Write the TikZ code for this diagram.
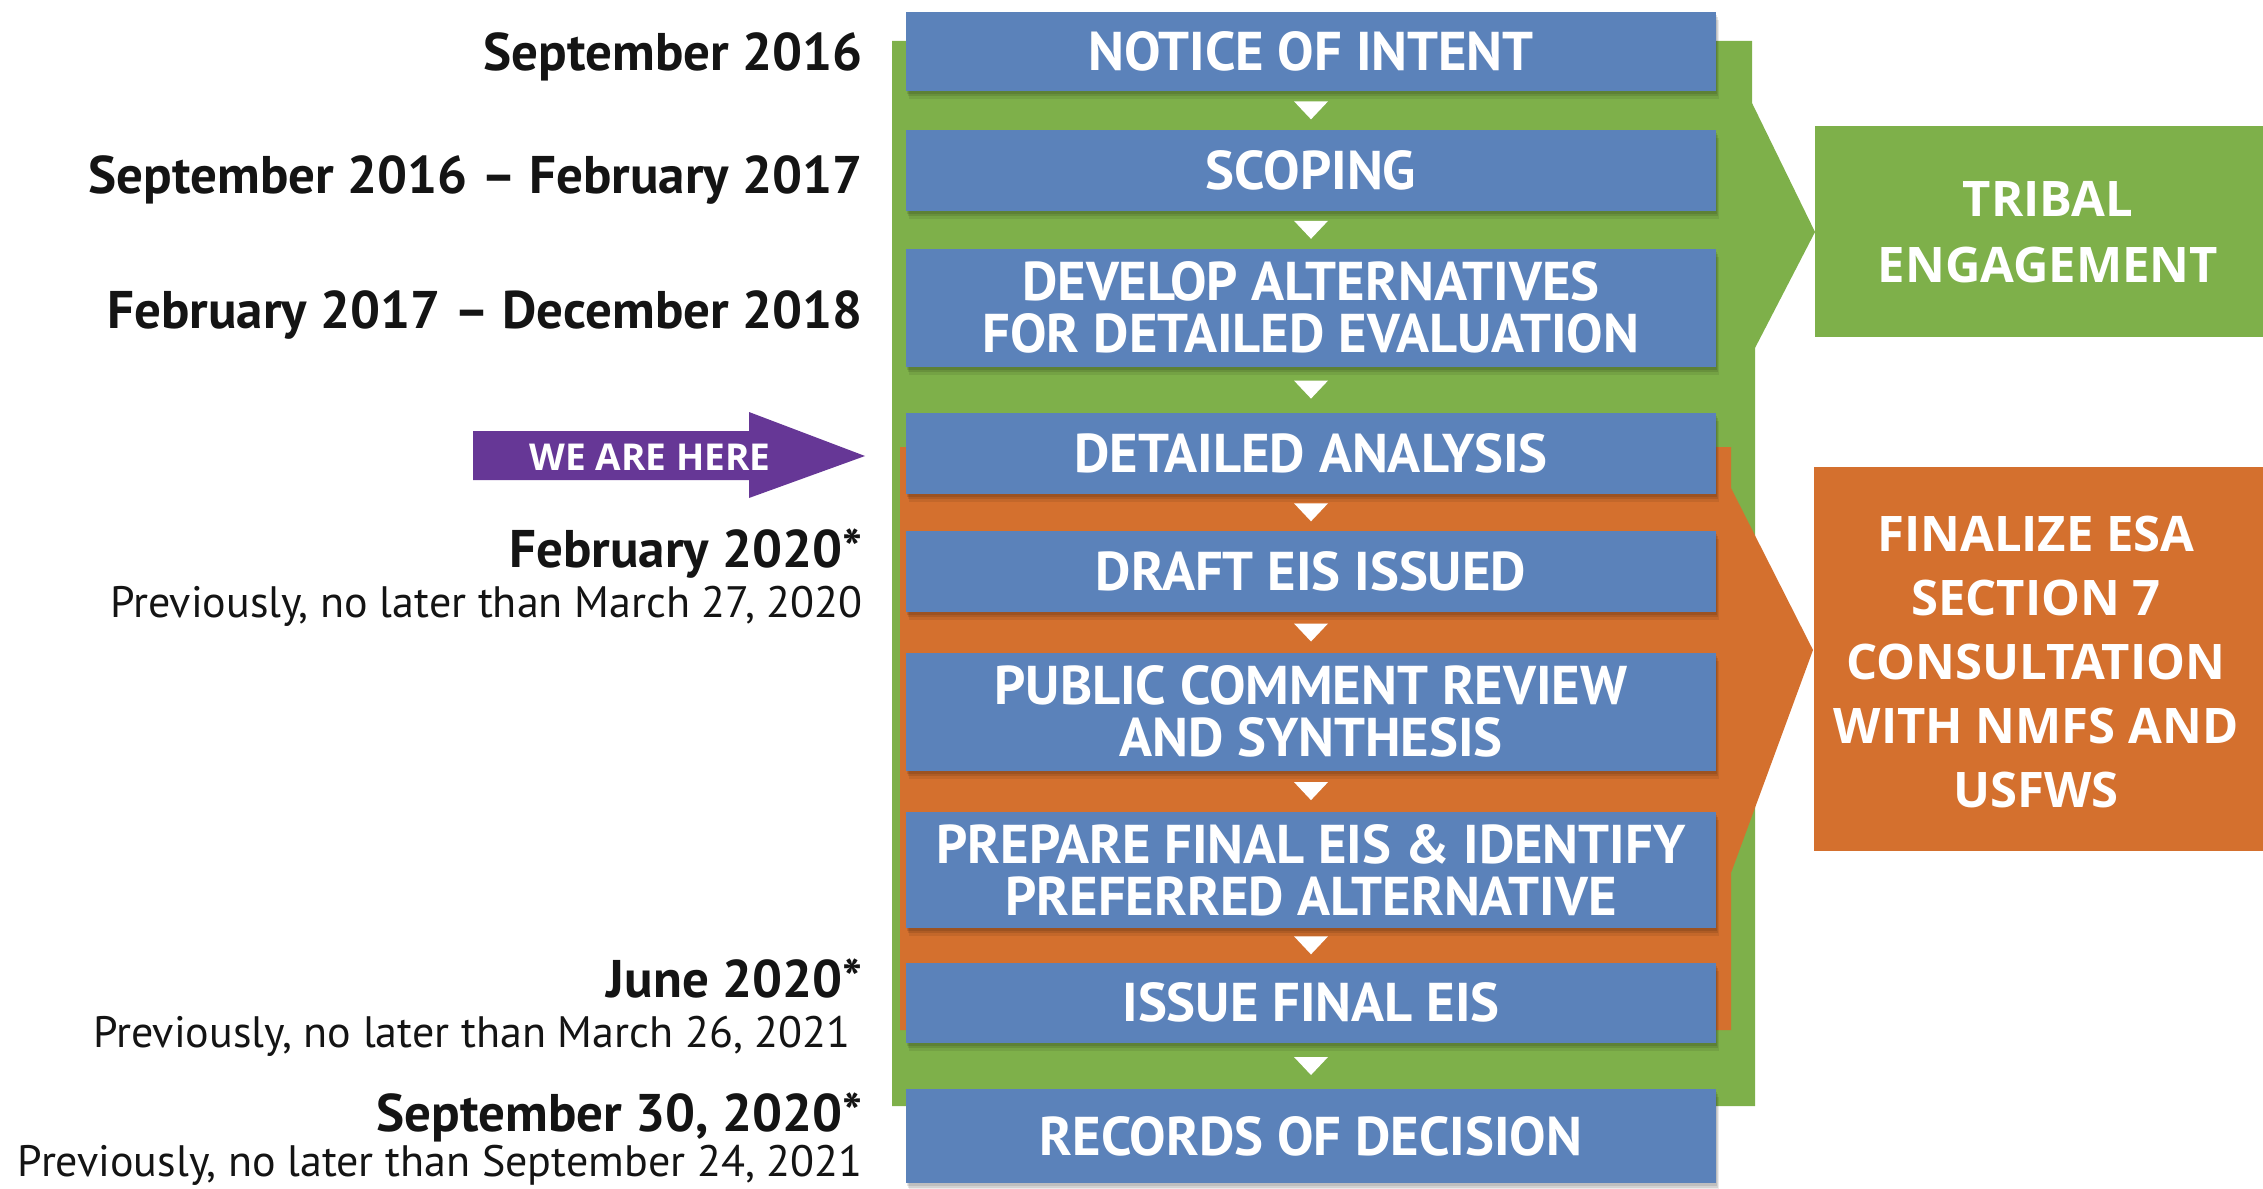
\documentclass[tikz,border=0pt]{standalone}
\usepackage{fontspec}
\setmainfont{PT Sans}
\newfontfamily\osfont{Open Sans}
\usetikzlibrary{calc,shadows}
\definecolor{boxblue}{RGB}{91,130,186}
\definecolor{bggreen}{RGB}{126,176,74}
\definecolor{bgorange}{RGB}{212,112,46}
\definecolor{herepurple}{RGB}{102,55,150}
\definecolor{labelink}{RGB}{20,20,20}
\begin{document}
\begin{tikzpicture}[x=0.5pt, y=-0.5pt,
  softshadow/.style={
    general shadow={fill=black, opacity=.10, shadow xshift=0.5pt, shadow yshift=-1.5pt},
    general shadow={fill=black, opacity=.10, shadow xshift=1pt, shadow yshift=-2.5pt},
    general shadow={fill=black, opacity=.08, shadow xshift=1.5pt, shadow yshift=-4pt}},
  stepbox/.style={fill=boxblue, text=white, minimum width=405pt, inner sep=0pt,
    font=\bfseries\fontsize{27.3}{26}\selectfont, align=center, softshadow},
  datelbl/.style={anchor=base east, inner sep=0pt, text=labelink,
    font=\bfseries\fontsize{26.5}{30}\selectfont},
  prevlbl/.style={anchor=base east, inner sep=0pt, text=labelink,
    font=\fontsize{22}{26}\selectfont},
  sidetext/.style={text=white, align=center, inner sep=0pt,
    font=\osfont\bfseries\fontsize{24.5}{33}\selectfont}]
\useasboundingbox (0,0) rectangle (2263,1188);

% background bands with arrow points
\fill[bggreen] (892,41) -- (1752,41) -- (1752,103) -- (1815,232) -- (1755,348)
  -- (1755,1106) -- (892,1106) -- cycle;
\fill[bgorange] (900,447) -- (1731,447) -- (1731,488) -- (1813,650) -- (1731,873)
  -- (1731,1030) -- (900,1030) -- cycle;

% side boxes
\fill[bggreen] (1815,126) rectangle (2263,337);
\node[sidetext] (tribal) at (2048,232) {TRIBAL\\ENGAGEMENT};
\fill[bgorange] (1814,467) rectangle (2263,851);
\node[sidetext, font=\osfont\bfseries\fontsize{24.5}{32}\selectfont] (esa) at (2036,662)
  {FINALIZE ESA\\SECTION 7\\CONSULTATION\\WITH NMFS AND\\USFWS};

% we are here arrow
\fill[herepurple] (473,431) -- (749,431) -- (749,412) -- (865,456) -- (749,498)
  -- (749,480) -- (473,480) -- cycle;
\node[anchor=base, inner sep=0pt, text=white, font=\osfont\bfseries\fontsize{18.5}{22}\selectfont]
  (here) at (650,470) {WE ARE HERE};

% process steps
\node[stepbox, minimum height=39.5pt] (b1) at (1311,51.2) {NOTICE OF INTENT};
\node[stepbox, minimum height=40.3pt] (b2) at (1311,170.3) {SCOPING};
\node[stepbox, minimum height=58.8pt] (b3) at (1311,307.8) {DEVELOP ALTERNATIVES\\FOR DETAILED EVALUATION};
\node[stepbox, minimum height=40.7pt] (b4) at (1311,453.3) {DETAILED ANALYSIS};
\node[stepbox, minimum height=40.7pt] (b5) at (1311,571.3) {DRAFT EIS ISSUED};
\node[stepbox, minimum height=58.8pt] (b6) at (1311,711.8) {PUBLIC COMMENT REVIEW\\AND SYNTHESIS};
\node[stepbox, minimum height=58.2pt] (b7) at (1311,869.8) {PREPARE FINAL EIS \& IDENTIFY\\PREFERRED ALTERNATIVE};
\node[stepbox, minimum height=40.2pt] (b8) at (1311,1002.8) {ISSUE FINAL EIS};
\node[stepbox, minimum height=47pt] (b9) at (1311,1136) {RECORDS OF DECISION};

% small white triangles between steps
\foreach \a/\b in {b1/b2,b2/b3,b3/b4,b4/b5,b5/b6,b6/b7,b7/b8,b8/b9}
  \fill[white] ($(\a.south)!0.5!(\b.north)$) ++(-17,-9) -- ++(34,0) -- ++(-17,18) -- cycle;

% dates
\node[datelbl] (d1) at (863,70.7) {September 2016};
\node[datelbl] (d2) at (863,193) {September 2016 – February 2017};
\node[datelbl] (d3) at (863,328) {February 2017 – December 2018};
\node[datelbl] (d4) at (863,567) {February 2020*};
\node[prevlbl] (p4) at (863,617) {Previously, no later than March 27, 2020};
\node[datelbl] (d5) at (863,997) {June 2020*};
\node[prevlbl] (p5) at (851,1047) {Previously, no later than March 26, 2021};
\node[datelbl] (d6) at (863,1131) {September 30, 2020*};
\node[prevlbl] (p6) at (863,1176) {Previously, no later than September 24, 2021};
\end{tikzpicture}
\end{document}
